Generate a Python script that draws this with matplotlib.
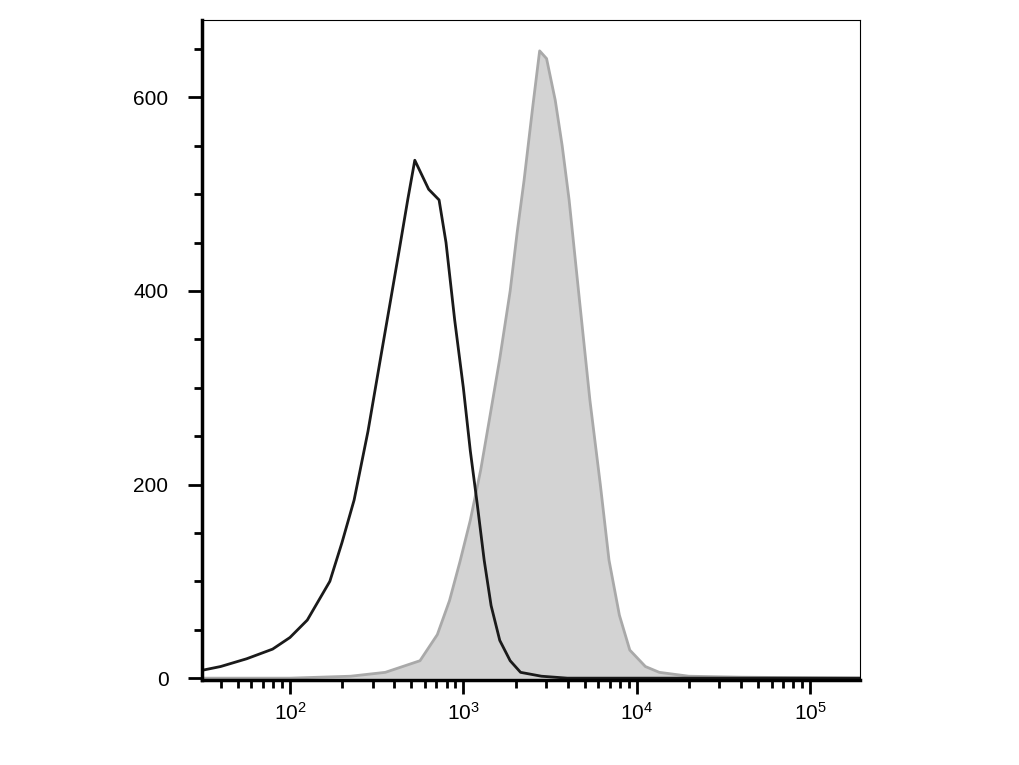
import numpy as np
import matplotlib.pyplot as plt
from matplotlib.ticker import MultipleLocator, LogLocator, NullFormatter

plt.rcParams['font.family'] = ['Liberation Sans', 'DejaVu Sans']

# black curve (control): log10 intensity vs count
black_log = [1.49, 1.6, 1.75, 1.9, 2.0, 2.1, 2.23, 2.3, 2.37, 2.45, 2.52, 2.58, 2.63, 2.68,
             2.72, 2.76, 2.8, 2.86, 2.9, 2.95, 3.0, 3.04, 3.08, 3.12, 3.16, 3.21, 3.27, 3.33, 3.45, 3.6, 5.3]
black_cnt = [8, 12, 20, 30, 42, 60, 100, 140, 184, 255, 328, 390, 442, 495,
             535, 520, 505, 494, 450, 370, 300, 235, 180, 122, 75, 39, 18, 6, 2, 0, 0]

# grey curve (stained): filled
grey_log = [1.49, 2.0, 2.35, 2.55, 2.75, 2.85, 2.92, 2.98, 3.04, 3.1, 3.15, 3.21, 3.27, 3.31, 3.35,
            3.4, 3.44, 3.48, 3.53, 3.57, 3.61, 3.67, 3.73, 3.79, 3.84, 3.9, 3.96, 4.05, 4.13, 4.3, 4.6, 5.3]
grey_cnt = [0, 0, 2, 6, 18, 45, 80, 120, 163, 215, 267, 330, 400, 460, 514,
            590, 648, 640, 597, 550, 494, 390, 287, 200, 122, 65, 29, 12, 6, 2, 1, 0]

fig = plt.figure(figsize=(10.19, 7.65), dpi=100)
ax = fig.add_axes([0.198, 0.111, 0.646, 0.863])

gx = 10 ** np.array(grey_log)
bx = 10 ** np.array(black_log)
ax.fill_between(gx, grey_cnt, color='#d3d3d3', linewidth=0)
ax.plot(gx, grey_cnt, color='#a9a9a9', linewidth=2)
ax.plot(bx, black_cnt, color='#1a1a1a', linewidth=2)

ax.set_xscale('log')
ax.set_xlim(31, 1.94e5)
ax.set_ylim(-2, 680)

ax.yaxis.set_major_locator(MultipleLocator(200))
ax.yaxis.set_minor_locator(MultipleLocator(50))
ax.xaxis.set_major_locator(LogLocator(base=10, numticks=10))
ax.xaxis.set_minor_locator(LogLocator(base=10, subs=np.arange(2, 10), numticks=20))
ax.xaxis.set_minor_formatter(NullFormatter())

ax.spines['left'].set_linewidth(2.5)
ax.spines['bottom'].set_linewidth(2.5)
ax.spines['top'].set_linewidth(0.8)
ax.spines['right'].set_linewidth(0.8)
ax.tick_params(axis='both', which='major', length=10, width=2, labelsize=15, direction='out')
ax.tick_params(axis='both', which='minor', length=6, width=2, direction='out')
ax.tick_params(axis='y', pad=14)
ax.tick_params(axis='x', pad=6)

plt.savefig('out.png', dpi=100)
